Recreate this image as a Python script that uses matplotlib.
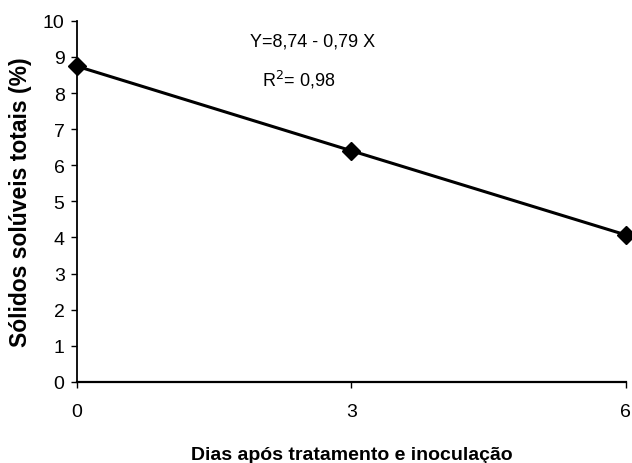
import matplotlib.pyplot as plt

# Dados
dias = [0, 3, 6]
solidos = [8.74, 6.40, 4.07]
x_ticks = [0, 3, 6]
y_ticks = list(range(0, 11))

plt.rcParams['font.family'] = ['Liberation Sans', 'DejaVu Sans']

fig = plt.figure(figsize=(6.32, 4.64), dpi=100)
ax = fig.add_axes([0.122, 0.175, 0.868, 0.778])

ax.plot(dias, solidos, color='black', linewidth=2.2, marker='D',
        markersize=9.5, clip_on=False, zorder=3)

ax.set_xlim(0, 6)
ax.set_ylim(0, 10)
ax.set_xticks(x_ticks)
ax.set_yticks(y_ticks)
ax.tick_params(axis='both', labelsize=14, length=4, width=1, color='black')
ax.tick_params(axis='x', pad=11)
ax.tick_params(axis='y', pad=5)
ax.spines['top'].set_visible(False)
ax.spines['right'].set_visible(False)
ax.spines['left'].set_linewidth(1.3)
ax.spines['bottom'].set_linewidth(1.6)

ax.set_xlabel('Dias após tratamento e inoculação', fontsize=14,
              fontweight='bold', labelpad=19)
ax.set_ylabel('Sólidos solúveis totais (%)', fontsize=16.5,
              fontweight='bold', labelpad=8)

# Equação de regressão
ax.text(1.89, 9.45, 'Y=8,74 - 0,79 X', fontsize=13, ha='left', va='center')
ax.text(2.02, 8.4, 'R$^2$= 0,98', fontsize=13, ha='left', va='center')

plt.savefig('out.png', dpi=100)
